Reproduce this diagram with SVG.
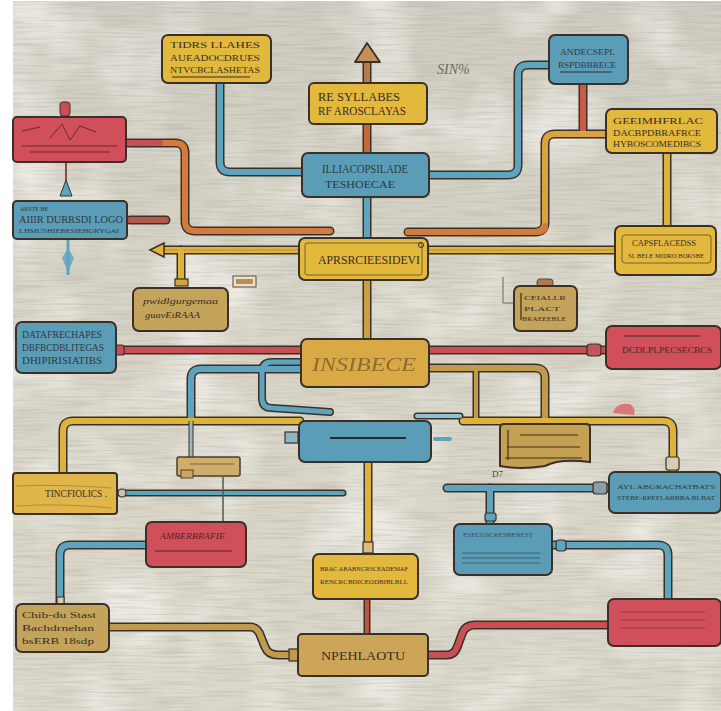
<svg xmlns="http://www.w3.org/2000/svg" width="721" height="711" viewBox="0 0 721 711">
<defs>
<linearGradient id="bg" x1="0" y1="0" x2="0" y2="1">
<stop offset="0" stop-color="#cfcdc1"/>
<stop offset="0.5" stop-color="#d9d6c9"/>
<stop offset="1" stop-color="#dbd8cb"/>
</linearGradient>
<filter id="streak" x="0" y="0" width="1" height="1">
<feTurbulence type="fractalNoise" baseFrequency="0.02 0.5" numOctaves="2" seed="4"/>
<feColorMatrix type="matrix" values="0 0 0 0 0.35  0 0 0 0 0.33  0 0 0 0 0.28  0 0 0 -2.4 1.4"/>
</filter>
<filter id="blot" x="0" y="0" width="1" height="1">
<feTurbulence type="fractalNoise" baseFrequency="0.012" numOctaves="3" seed="9"/>
<feColorMatrix type="matrix" values="0 0 0 0 0.95  0 0 0 0 0.94  0 0 0 0 0.9  0 0 0 -3 1.6"/>
</filter>
<style>
.o{fill:none;stroke:#3a3027;stroke-linecap:round;stroke-linejoin:round}
.p{fill:none;stroke-linecap:round;stroke-linejoin:round}
.bl{stroke:#5ea4bf}
.ye{stroke:#dfb23c}
.or{stroke:#d37a3c}
.rd{stroke:#c94f55}
.tn{stroke:#c19a4c}
.box{stroke:#3a3027;stroke-width:2}
.fy{fill:#e2b83d}
.fb{fill:#5b9db6}
.fr{fill:#d14f5a}
.ft{fill:#c4a35b}
.fo{fill:#d9a945}
.t{font-family:"Liberation Serif","DejaVu Serif",serif;fill:#3a2e22}
.ln{stroke:#3a2e22;stroke-width:1.2;fill:none}
</style>
</defs>
<rect width="721" height="711" fill="#ffffff"/>
<rect x="13" y="1" width="708" height="710" fill="url(#bg)"/>
<rect x="13" y="1" width="708" height="710" filter="url(#blot)" opacity="0.6"/>
<rect x="13" y="1" width="708" height="710" filter="url(#streak)" opacity="0.3"/>
<text x="437" y="74" class="t" font-size="14" font-style="italic" style="fill:#6d6a62">SIN%</text>
<text x="492" y="477" class="t" font-size="9" style="fill:#4a4238">D7</text>

<g id="connectors">
<path class="o" stroke-width="9" d="M220,83 V162 Q220,172 230,172 H302"/>
<path class="o" stroke-width="9" d="M367,83 V62"/>
<path class="o" stroke-width="9" d="M367,124 V153"/>
<path class="o" stroke-width="9" d="M548,65 H528 Q518,65 518,75 V165 Q518,175 508,175 H430"/>
<path class="o" stroke-width="9" d="M583,84 V133"/>
<path class="o" stroke-width="9" d="M606,134 H555 Q545,134 545,144 V222 Q545,232 535,232 H408"/>
<path class="o" stroke-width="9" d="M126,143 H175 Q185,143 185,153 V221 Q185,231 195,231 H330"/>
<path class="o" stroke-width="9" d="M667,153 V227"/>
<path class="o" stroke-width="9" d="M160,250 H615"/>
<path class="o" stroke-width="9" d="M181,250 V281"/>
<path class="o" stroke-width="9" d="M367,197 V238"/>
<path class="o" stroke-width="9" d="M130,220 H166"/>
<path class="o" stroke-width="9" d="M367,280 V339"/>
<path class="o" stroke-width="9" d="M117,350 H301"/>
<path class="o" stroke-width="9" d="M429,350 H606"/>
<path class="o" stroke-width="9" d="M301,369 H201 Q191,369 191,379 V421"/>
<path class="o" stroke-width="8" d="M299,362 H272 Q262,362 262,372 V398 Q262,408 272,408 L330,412"/>
<path class="o" stroke-width="9" d="M300,421 H73 Q63,421 63,431 V473"/>
<path class="o" stroke-width="9" d="M429,368 H535 Q545,368 545,378 V424"/>
<path class="o" stroke-width="7" d="M476,368 V421"/>
<path class="o" stroke-width="9" d="M463,421 H663 Q673,421 673,431 V471"/>
<path class="o" stroke-width="7" d="M417,416 H460"/>
<path class="o" stroke-width="9" d="M368,462 V554"/>
<path class="o" stroke-width="7" d="M120,493 H343"/>
<path class="o" stroke-width="9" d="M146,545 H70 Q60,545 60,555 V604"/>
<path class="o" stroke-width="9" d="M447,488 H609"/>
<path class="o" stroke-width="9" d="M490,488 V524"/>
<path class="o" stroke-width="9" d="M553,545 H658 Q668,545 668,555 V599"/>
<path class="o" stroke-width="7" d="M367,598 V634"/>
<path class="o" stroke-width="9" d="M109,627 H250 Q258,627 261,637 L265,647 Q268,655 278,655 H298"/>
<path class="o" stroke-width="9" d="M429,655 H447 Q455,655 458,645 L462,634 Q465,625 475,625 H608"/>
<path class="p bl" stroke-width="6" d="M220,83 V162 Q220,172 230,172 H302"/>
<path class="p" stroke="#b27c4c" stroke-width="6" d="M367,83 V62"/>
<path class="p" stroke="#c5663b" stroke-width="6" d="M367,124 V153"/>
<path class="p bl" stroke-width="6" d="M548,65 H528 Q518,65 518,75 V165 Q518,175 508,175 H430"/>
<path class="p" stroke="#cc5b45" stroke-width="6" d="M583,84 V133"/>
<path class="p" stroke="#d9a33f" stroke-width="6" d="M606,134 H555 Q545,134 545,144 V222 Q545,232 535,232 H408"/>
<path class="p or" stroke-width="6" d="M545,226 Q545,232 535,232 H408"/>
<path class="p or" stroke-width="6" d="M126,143 H175 Q185,143 185,153 V221 Q185,231 195,231 H330"/>
<path class="p rd" stroke-width="6" d="M126,143 H160"/>
<path class="p ye" stroke-width="6" d="M667,153 V227"/>
<path class="p ye" stroke-width="6" d="M160,250 H615"/>
<path d="M160,250 H615" stroke="#8a6d2a" stroke-width="0.8" opacity="0.6"/>
<path class="p ye" stroke-width="6" d="M181,250 V281"/>
<path class="p bl" stroke-width="6" d="M367,197 V238"/>
<path class="p" stroke="#b4584a" stroke-width="6" d="M130,220 H166"/>
<path class="p" stroke="#c9a043" stroke-width="6" d="M367,280 V339"/>
<path class="p rd" stroke-width="6" d="M117,350 H301"/>
<path class="p rd" stroke-width="6" d="M429,350 H606"/>
<path class="p bl" stroke-width="6" d="M301,369 H201 Q191,369 191,379 V421"/>
<path class="p bl" stroke-width="5" d="M299,362 H272 Q262,362 262,372 V398 Q262,408 272,408 L330,412"/>
<path class="p ye" stroke-width="6" d="M300,421 H73 Q63,421 63,431 V473"/>
<path class="p tn" stroke-width="6" d="M429,368 H535 Q545,368 545,378 V424"/>
<path class="p tn" stroke-width="4" d="M476,368 V421"/>
<path class="p ye" stroke-width="6" d="M463,421 H663 Q673,421 673,431 V471"/>
<path class="p" stroke="#8fc1d4" stroke-width="4" d="M417,416 H460"/>
<path class="p ye" stroke-width="6" d="M368,462 V554"/>
<path class="p bl" stroke-width="4" d="M120,493 H343"/>
<path class="p bl" stroke-width="6" d="M146,545 H70 Q60,545 60,555 V604"/>
<path class="p bl" stroke-width="6" d="M447,488 H609"/>
<path class="p bl" stroke-width="6" d="M490,488 V524"/>
<path class="p bl" stroke-width="6" d="M553,545 H658 Q668,545 668,555 V599"/>
<path class="p" stroke="#c2543f" stroke-width="4" d="M367,598 V634"/>
<path class="p tn" stroke-width="6" d="M109,627 H250 Q258,627 261,637 L265,647 Q268,655 278,655 H298"/>
<path class="p rd" stroke-width="6" d="M429,655 H447 Q455,655 458,645 L462,634 Q465,625 475,625 H608"/>
<polygon points="355,62 367,43 380,62" fill="#c58f58" stroke="#3a3027" stroke-width="1.8" stroke-linejoin="round"/>
<polygon points="150,250 164,243 164,257" fill="#dfb23c" stroke="#3a3027" stroke-width="1.5"/>
<rect x="175" y="279" width="13" height="7" fill="#d4a63a" stroke="#3a3027" stroke-width="1.2"/>
<path d="M191,421 V457" stroke="#3a3027" stroke-width="5"/>
<path d="M191,421 V457" stroke="#9cb8bd" stroke-width="3"/>
<path d="M223,477 V522" stroke="#5a554c" stroke-width="1.5"/>
<rect x="114" y="345" width="10" height="10" rx="2" fill="#c94f55" stroke="#3a3027" stroke-width="1.2"/>
<rect x="587" y="344" width="14" height="12" rx="3" fill="#c0565a" stroke="#3a3027" stroke-width="1.2"/>
<rect x="285" y="432" width="13" height="11" fill="#8fb6c2" stroke="#3a3027" stroke-width="1.2"/>
<path d="M435,439 H450" stroke="#5ea4bf" stroke-width="4" stroke-linecap="round"/>
<rect x="666" y="457" width="13" height="13" rx="2" fill="#d6cdb2" stroke="#3a3027" stroke-width="1.2"/>
<rect x="593" y="482" width="14" height="12" rx="3" fill="#8a9ea4" stroke="#3a3027" stroke-width="1.2"/>
<rect x="485" y="513" width="11" height="8" rx="2" fill="#5ea4bf" stroke="#3a3027" stroke-width="1.2"/>
<circle cx="122" cy="493" r="4" fill="#c8c2b0" stroke="#3a3027" stroke-width="1.2"/>
<rect x="556" y="540" width="10" height="11" rx="3" fill="#5ea4bf" stroke="#3a3027" stroke-width="1.2"/>
<rect x="363" y="542" width="10" height="11" fill="#d9bf7a" stroke="#3a3027" stroke-width="1.2"/>
<rect x="289" y="649" width="9" height="12" fill="#c19a4c" stroke="#3a3027" stroke-width="1.2"/>
<rect x="57" y="597" width="7" height="8" fill="#d6cdb2" stroke="#3a3027" stroke-width="1"/>
<rect x="537" y="279" width="16" height="8" rx="3" fill="#b07a48" stroke="#5a4a36" stroke-width="1"/>
<path d="M503,277 V303 H514" stroke="#6a645a" stroke-width="1" fill="none"/>
<rect x="60" y="102" width="10" height="14" rx="3" fill="#c94f55" stroke="#3a3027" stroke-width="1"/>
<path d="M66,162 V180" stroke="#8a4b48" stroke-width="2"/>
<polygon points="60,196 66,180 72,196" fill="#5ea4bf" stroke="#3a3027" stroke-width="1"/>
<path d="M68,240 V275" stroke="#5ea4bf" stroke-width="3"/>
<polygon points="62,258 68,248 74,258 68,272" fill="#5ea4bf" opacity="0.8"/>
<rect x="177" y="457" width="63" height="19" rx="2" fill="#cfae6d" stroke="#4a3e2e" stroke-width="1.5"/>
<rect x="181" y="470" width="12" height="8" fill="#c9a763" stroke="#4a3e2e" stroke-width="1"/>
<path d="M190,464 H234" stroke="#7a6238" stroke-width="1"/>
<rect x="233" y="276" width="23" height="11" fill="#e8e2d3" stroke="#5a4a36" stroke-width="1"/>
<rect x="236" y="279" width="17" height="5" fill="#c08a4c"/>
<path d="M613,413 Q616,402 630,404 Q636,408 634,415 Z" fill="#d9696a" opacity="0.85"/>
</g>

<g id="n1"><rect class="box fy" x="162" y="35" width="109" height="48" rx="6"/>
<text class="t" x="170" y="48" font-size="9" textLength="90" lengthAdjust="spacingAndGlyphs">TIDRS LLAHES</text>
<text class="t" x="170" y="61" font-size="9" textLength="90" lengthAdjust="spacingAndGlyphs">AUEADOCDRUES</text>
<text class="t" x="170" y="73" font-size="9" textLength="90" lengthAdjust="spacingAndGlyphs">NTVCBCLASHETAS</text>
<path class="ln" d="M172,77 H250"/></g>

<g id="n2"><rect class="box fy" x="309" y="83" width="118" height="41" rx="5"/>
<text class="t" x="318" y="101" font-size="12" textLength="82" lengthAdjust="spacingAndGlyphs">RE SYLLABES</text>
<text class="t" x="318" y="115" font-size="12" textLength="88" lengthAdjust="spacingAndGlyphs">RF AROSCLAYAS</text></g>

<g id="n3"><rect class="box fb" x="302" y="153" width="127" height="44" rx="6"/>
<text class="t" x="322" y="173" font-size="12" textLength="86" lengthAdjust="spacingAndGlyphs" style="fill:#2e3a3e">ILLIACOPSILADE</text>
<text class="t" x="325" y="188" font-size="11" textLength="70" lengthAdjust="spacingAndGlyphs" style="fill:#2e3a3e">TESHOECAE</text></g>

<g id="n4"><rect class="box fb" x="549" y="35" width="79" height="49" rx="6"/>
<text class="t" x="560" y="55" font-size="9" textLength="55" lengthAdjust="spacingAndGlyphs" style="fill:#2e3a3e">ANDECSEPL</text>
<text class="t" x="558" y="68" font-size="8" textLength="58" lengthAdjust="spacingAndGlyphs" style="fill:#2e3a3e">BSPDBBRECE</text>
<path class="ln" d="M560,72 H612" stroke-width="0.8"/></g>

<g id="n5"><rect class="box fy" x="606" y="109" width="111" height="44" rx="6"/>
<text class="t" x="613" y="124" font-size="9" textLength="90" lengthAdjust="spacingAndGlyphs">GEEIMHFRLAC</text>
<text class="t" x="613" y="136" font-size="9" textLength="88" lengthAdjust="spacingAndGlyphs">DACBPDBRAFRCE</text>
<text class="t" x="613" y="147" font-size="9" textLength="88" lengthAdjust="spacingAndGlyphs">HYBOSCOMEDIBCS</text></g>

<g id="n6"><rect class="box fy" x="615" y="226" width="101" height="49" rx="6"/>
<rect x="622" y="235" width="89" height="28" rx="3" fill="none" stroke="#5a4a30" stroke-width="0.8"/>
<text class="t" x="632" y="246" font-size="8" textLength="64" lengthAdjust="spacingAndGlyphs">CAPSFLACEDSS</text>
<text class="t" x="628" y="258" font-size="7" textLength="76" lengthAdjust="spacingAndGlyphs">SL BELE MIDRO BOKSBE</text></g>

<g id="n7"><rect class="box fr" x="13" y="117" width="113" height="45" rx="4"/>
<path d="M22,131 L40,127 M50,138 L62,124 L70,140 L80,126 L96,132 M22,146 H118 M30,152 H110" stroke="#6a2a2e" stroke-width="1" fill="none"/></g>

<g id="n8"><rect class="box fb" x="13" y="201" width="114" height="38" rx="4"/>
<text class="t" x="20" y="211" font-size="6" style="fill:#2e3a3e">ARSTE BE</text>
<text class="t" x="19" y="223" font-size="10" textLength="104" lengthAdjust="spacingAndGlyphs" style="fill:#2e3a3e">AIIIR DURRSDI LOGO</text>
<text class="t" x="19" y="233" font-size="7" textLength="100" lengthAdjust="spacingAndGlyphs" style="fill:#2e3a3e">LHMUSHIEBESIEHGRYGAI</text></g>

<g id="n9"><rect class="box fy" x="299" y="238" width="129" height="42" rx="6"/>
<rect x="305" y="243" width="117" height="32" rx="2" fill="none" stroke="#5a4a30" stroke-width="0.8"/>
<circle cx="421" cy="245" r="2.5" fill="none" stroke="#3a3027" stroke-width="1"/>
<text class="t" x="318" y="264" font-size="12" textLength="102" lengthAdjust="spacingAndGlyphs">APRSRCIEESIDEVI</text></g>

<g id="n10"><rect class="box ft" x="133" y="288" width="95" height="43" rx="6"/>
<text class="t" x="143" y="304" font-size="9" font-style="italic" textLength="75" lengthAdjust="spacingAndGlyphs">pwidlgurgemaa</text>
<text class="t" x="145" y="318" font-size="9" font-style="italic" textLength="55" lengthAdjust="spacingAndGlyphs">guavEtRAAA</text></g>

<g id="n11"><rect class="box ft" x="514" y="286" width="63" height="45" rx="6"/>
<text class="t" x="524" y="300" font-size="7" textLength="42" lengthAdjust="spacingAndGlyphs">CEIALLR</text>
<text class="t" x="524" y="311" font-size="7" textLength="36" lengthAdjust="spacingAndGlyphs">PLACT</text>
<text class="t" x="522" y="321" font-size="6" textLength="44" lengthAdjust="spacingAndGlyphs">BRAEEEBLE</text>
<path class="ln" d="M521,293 V320" stroke-width="0.8"/></g>

<g id="n12"><rect class="box fb" x="16" y="322" width="100" height="51" rx="6"/>
<text class="t" x="22" y="338" font-size="10" textLength="80" lengthAdjust="spacingAndGlyphs" style="fill:#2e3a3e">DATAFRECHAPES</text>
<text class="t" x="22" y="351" font-size="10" textLength="82" lengthAdjust="spacingAndGlyphs" style="fill:#2e3a3e">DBFBCDBLITEGAS</text>
<text class="t" x="22" y="364" font-size="10" textLength="80" lengthAdjust="spacingAndGlyphs" style="fill:#2e3a3e">DHIPIRISIATIBS</text></g>

<g id="n13"><rect class="box fo" x="301" y="339" width="128" height="48" rx="6"/>
<text class="t" x="312" y="371" font-size="19" font-style="italic" textLength="104" lengthAdjust="spacingAndGlyphs" style="fill:#7a5c2c" opacity="0.8">INSIBECE</text></g>

<g id="n14"><rect class="box fr" x="606" y="326" width="115" height="43" rx="6"/>
<path class="ln" d="M624,336 H700" stroke-width="0.9"/>
<text class="t" x="622" y="353" font-size="9" textLength="90" lengthAdjust="spacingAndGlyphs">DCDLPLPECSECBCS</text></g>

<g id="n15"><rect class="box fb" x="299" y="421" width="132" height="41" rx="6"/>
<path d="M330,438 H406" stroke="#2e2a26" stroke-width="2.2"/></g>

<g id="n16"><path class="box" fill="#c4a052" d="M504,424 H586 Q590,424 590,428 V462 Q560,458 545,466 Q520,470 500,466 V428 Q500,424 504,424 Z"/>
<path class="ln" d="M520,435 H578 M507,447 H580 M505,458 H582" stroke-width="1"/>
<path class="ln" d="M508,430 V460" stroke-width="0.8"/></g>

<g id="n17"><rect class="box" fill="#e0b64a" x="13" y="473" width="104" height="41" rx="3"/>
<path d="M16,486 Q60,484 112,488 M16,506 Q60,503 112,508" stroke="#a78236" stroke-width="0.8" fill="none"/>
<text class="t" x="45" y="497" font-size="11" textLength="62" lengthAdjust="spacingAndGlyphs">TINCFIOLICS .</text></g>

<g id="n18"><rect class="box fb" x="609" y="472" width="112" height="41" rx="6"/>
<text class="t" x="617" y="489" font-size="7" textLength="98" lengthAdjust="spacingAndGlyphs" style="fill:#2e3a3e">AYL  ABGRACHATBATS</text>
<text class="t" x="617" y="500" font-size="7" textLength="98" lengthAdjust="spacingAndGlyphs" style="fill:#2e3a3e">STEBE-RPEFLARBBA BLBAT</text></g>

<g id="n19"><rect class="box fr" x="146" y="522" width="100" height="45" rx="6"/>
<text class="t" x="160" y="539" font-size="9" font-style="italic" textLength="65" lengthAdjust="spacingAndGlyphs" style="fill:#5a2226">AMBERBRAFIE</text>
<path d="M155,551 H232" stroke="#5a2226" stroke-width="1"/></g>

<g id="n20"><rect class="box fb" x="454" y="524" width="98" height="51" rx="6"/>
<text class="t" x="463" y="537" font-size="6" textLength="70" lengthAdjust="spacingAndGlyphs" style="fill:#3a4a52">ESECUSCRESBENEST</text>
<path d="M462,553 H540 M462,558 H540 M462,563 H540" stroke="#35505a" stroke-width="0.8"/></g>

<g id="n21"><rect class="box fy" x="313" y="554" width="105" height="45" rx="6"/>
<text class="t" x="320" y="571" font-size="7" textLength="88" lengthAdjust="spacingAndGlyphs">BRAC ABABNCRSCEADEMAF</text>
<text class="t" x="320" y="584" font-size="7" textLength="88" lengthAdjust="spacingAndGlyphs">RENCRCBDICEODBIBLBLL</text></g>

<g id="n22"><rect class="box ft" x="16" y="604" width="93" height="48" rx="6"/>
<text class="t" x="22" y="618" font-size="9" textLength="74" lengthAdjust="spacingAndGlyphs">Chib-du  Stast</text>
<text class="t" x="22" y="631" font-size="9" textLength="72" lengthAdjust="spacingAndGlyphs">Bachdrnehan</text>
<text class="t" x="22" y="644" font-size="9" textLength="72" lengthAdjust="spacingAndGlyphs">bsERB  18sdp</text></g>

<g id="n23"><rect class="box fr" x="608" y="599" width="113" height="47" rx="6"/>
<path d="M620,612 H705 M620,620 H705 M620,628 H705" stroke="#9a3a44" stroke-width="1.5" opacity="0.7"/></g>

<g id="n24"><rect class="box" fill="#cca558" x="298" y="634" width="130" height="42" rx="4"/>
<text class="t" x="321" y="660" font-size="13" textLength="84" lengthAdjust="spacingAndGlyphs">NPEHLAOTU</text></g>
</svg>
